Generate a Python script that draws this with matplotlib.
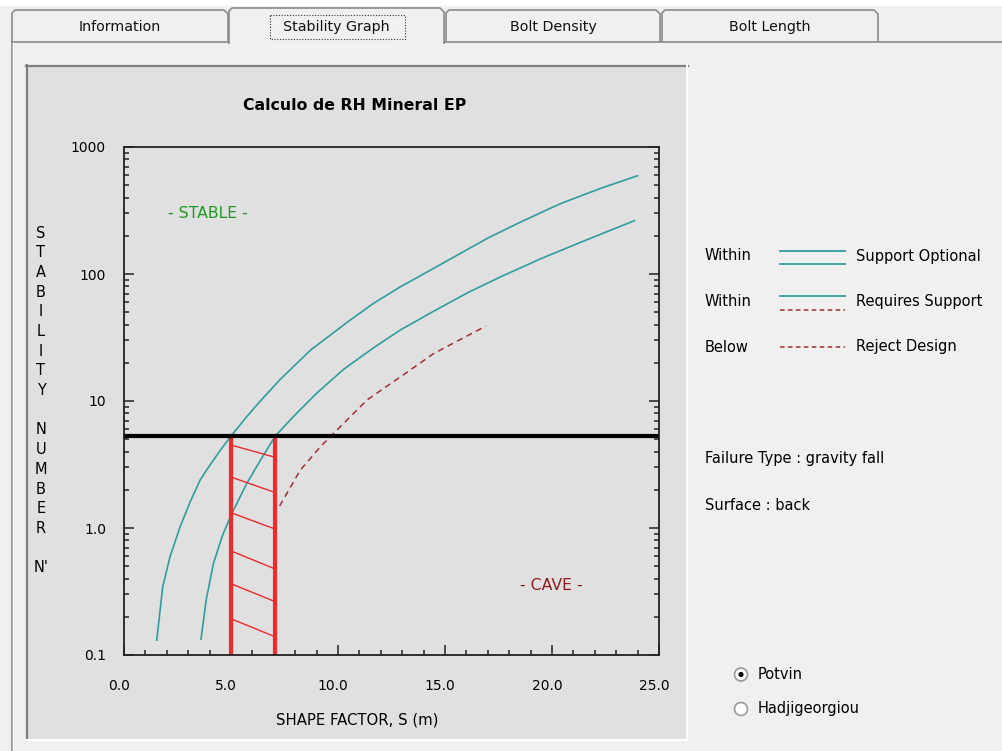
import numpy as np
import matplotlib.pyplot as plt
from matplotlib.patches import Rectangle, Polygon, Circle
from matplotlib.ticker import MultipleLocator, LogLocator, NullFormatter
from matplotlib.transforms import ScaledTranslation

# curve data (shape factor S, stability number N')
upper_s = [1.53, 1.81, 2.15, 2.62, 3.1, 3.56, 4.0, 4.49, 5.0, 5.7, 6.37, 7.3, 8.71, 10.43, 11.67, 12.92, 14.48, 16.98, 18.54, 20.41, 22.28, 24.0]
upper_n = [0.131, 0.345, 0.594, 1.02, 1.62, 2.39, 3.1, 4.07, 5.3, 7.4, 10.0, 14.8, 25.1, 41.7, 58.9, 79.4, 111, 191, 257, 359, 473, 594]

lower_s = [3.60, 3.84, 4.18, 4.60, 5.0, 5.74, 6.40, 7.07, 8.0, 9.0, 10.27, 11.67, 12.92, 14.48, 16.04, 17.60, 19.48, 21.35, 23.85]
lower_n = [0.133, 0.271, 0.527, 0.87, 1.26, 2.25, 3.47, 5.3, 7.8, 11.5, 17.8, 26.3, 36.3, 51, 71, 95, 132, 178, 263]

reject_s = [7.27, 8.24, 9.18, 9.80, 11.36, 12.92, 14.48, 16.91]
reject_n = [1.49, 2.86, 4.37, 5.57, 10.2, 15.5, 23.7, 38.9]

design_n = 5.3          # stability number of the design
s_min = 5.0             # shape factor at upper boundary
s_max = 7.07            # shape factor at lower boundary
hatch_left_n = [4.5, 2.52, 1.32, 0.66, 0.364, 0.193]
hatch_right_n = [3.6, 1.9, 0.98, 0.475, 0.263, 0.139]

x_ticks = [0, 5, 10, 15, 20, 25]
x_tick_labels = ["0.0", "5.0", "10.0", "15.0", "20.0", "25.0"]
y_ticks = [0.1, 1, 10, 100, 1000]
y_tick_labels = ["0.1", "1.0", "10", "100", "1000"]

tabs = ["Information", "Stability Graph", "Bolt Density", "Bolt Length"]
legend_rows = [("Within", "Support Optional"), ("Within", "Requires Support"), ("Below", "Reject Design")]

W, H = 1003, 751
teal = '#2f9e9e'
dred = '#a33030'
red = '#ee2a2a'
border = '#8c8c8c'

fig = plt.figure(figsize=(W / 100, H / 100), dpi=100)

# window background drawn in pixel coordinates
bg = fig.add_axes([0, 0, 1, 1])
bg.set_xlim(0, W)
bg.set_ylim(H, 0)
bg.axis('off')
bg.add_patch(Rectangle((0, 0), W, H, fc='#f0f0f0', ec='none'))
bg.add_patch(Rectangle((0, 0), W, 6, fc='white', ec='none'))

# tabs
tab_x = [(12, 228), (229, 444), (446, 660), (662, 878)]
for i, (x0, x1) in enumerate(tab_x):
    if i == 1:
        continue
    bg.add_patch(Polygon([(x0, 42), (x0, 13), (x0 + 3, 10), (x1 - 4, 10), (x1, 14), (x1, 42)],
                         closed=False, fc='#f0f0f0', ec=border, lw=1.2))
x0, x1 = tab_x[1]
bg.add_patch(Polygon([(x0, 44), (x0, 11), (x0 + 3, 8), (x1 - 4, 8), (x1, 12), (x1, 44)],
                     closed=False, fc='#f0f0f0', ec=border, lw=1.2))
bg.plot([12, 229], [42, 42], color=border, lw=1.2)
bg.plot([444, W], [42, 42], color=border, lw=1.2)
bg.plot([12, 12], [42, H], color=border, lw=1.2)
bg.plot([13.5, 13.5], [43, H], color='white', lw=1)
for (x0, x1), name in zip(tab_x, tabs):
    bg.text((x0 + x1) / 2, 27, name, fontsize=10.3, ha='center', va='center', color='#111111')
bg.add_patch(Rectangle((270, 15), 135, 24, fill=False, ec='#333333', lw=0.8, ls=(0, (1, 1.5))))

# sunken chart panel
bg.add_patch(Rectangle((26, 65), 662, 675, fc='#e0e0e0', ec='none'))
bg.plot([26, 688], [66, 66], color='#7f7f7f', lw=1.6)
bg.plot([27, 27], [65, 740], color='#7f7f7f', lw=1.6)
bg.plot([26, 688], [739.5, 739.5], color='white', lw=1.4)
bg.plot([687.5, 687.5], [65, 740], color='white', lw=1.4)

bg.text(355, 105, "Calculo de RH Mineral EP", fontsize=11.3, fontweight='bold', ha='center', va='center')
bg.text(357, 720, "SHAPE FACTOR, S (m)", fontsize=10.7, ha='center', va='center')
ylabel = "STABILITY NUMBER"
for k, ch in enumerate(ylabel):
    if ch != ' ':
        bg.text(41, 233 + k * 19.7, ch, fontsize=10.5, ha='center', va='center')
bg.text(41, 233 + 17 * 19.7, "N'", fontsize=10.5, ha='center', va='center')

# legend on the right
for k, (left, right) in enumerate(legend_rows):
    yc = 256 + k * 45.5
    bg.text(705, yc, left, fontsize=10.5, ha='left', va='center')
    bg.text(856, yc, right, fontsize=10.5, ha='left', va='center')
bg.plot([780, 845], [250.5, 250.5], color=teal, lw=1.3)
bg.plot([780, 845], [263.5, 263.5], color=teal, lw=1.3)
bg.plot([780, 845], [295.5, 295.5], color=teal, lw=1.3)
bg.plot([780, 845], [309.5, 309.5], color=dred, lw=1.1, ls=(0, (3, 2.2)))
bg.plot([780, 845], [346.5, 346.5], color=dred, lw=1.1, ls=(0, (3, 2.2)))

bg.text(705, 459, "Failure Type : gravity fall", fontsize=10.5, ha='left', va='center')
bg.text(705, 505, "Surface : back", fontsize=10.5, ha='left', va='center')

for k, name in enumerate(["Potvin", "Hadjigeorgiou"]):
    yc = 674.5 + k * 34.5
    bg.add_patch(Circle((741, yc), 6.5, fc='white', ec='#9a9a9a', lw=1.2))
    if k == 0:
        bg.add_patch(Circle((741, yc), 2.6, fc='black', ec='none'))
    bg.text(758, yc, name, fontsize=10.5, ha='left', va='center')

# stability graph
ax = fig.add_axes([124 / W, 1 - 655 / H, (659 - 124) / W, (655 - 147) / H])
ax.set_facecolor('none')
ax.set_yscale('log')
ax.set_xlim(0, 25)
ax.set_ylim(0.1, 1000)

ax.plot(upper_s, upper_n, color=teal, lw=1.2)
ax.plot(lower_s, lower_n, color=teal, lw=1.2)
ax.plot(reject_s, reject_n, color=dred, lw=1.1, ls=(0, (4, 3)))

for nl, nr in zip(hatch_left_n, hatch_right_n):
    ax.plot([s_min, s_max], [nl, nr], color=red, lw=1.0)
ax.plot([s_min, s_min], [0.103, design_n], color=red, lw=3)
ax.plot([s_max, s_max], [0.103, design_n], color=red, lw=3)
ax.axhline(design_n, color='black', lw=3)

ax.text(3.9, 300, "- STABLE -", color='#1f9a1f', fontsize=11.3, ha='center', va='center')
ax.text(19.95, 0.35, "- CAVE -", color='#8e1c1c', fontsize=11.3, ha='center', va='center')

for sp in ax.spines.values():
    sp.set_color('#222222')
    sp.set_linewidth(1.3)

ax.set_xticks(x_ticks)
ax.set_xticklabels(x_tick_labels)
ax.xaxis.set_minor_locator(MultipleLocator(1))
ax.set_yticks(y_ticks)
ax.set_yticklabels(y_tick_labels)
ax.yaxis.set_minor_locator(LogLocator(base=10, subs=np.arange(2, 10)))
ax.yaxis.set_minor_formatter(NullFormatter())
ax.tick_params(which='both', direction='in', top=False, right=True, labelsize=10, color='#222222')
ax.tick_params(which='major', length=7, width=1.1)
ax.tick_params(which='minor', length=3.6, width=1.1)
ax.tick_params(axis='y', pad=13)
ax.tick_params(axis='x', pad=17)

shift = ScaledTranslation(-5 / 100, 0, fig.dpi_scale_trans)
for lab in ax.get_xticklabels():
    lab.set_transform(lab.get_transform() + shift)

fig.savefig('out.png', dpi=100)
